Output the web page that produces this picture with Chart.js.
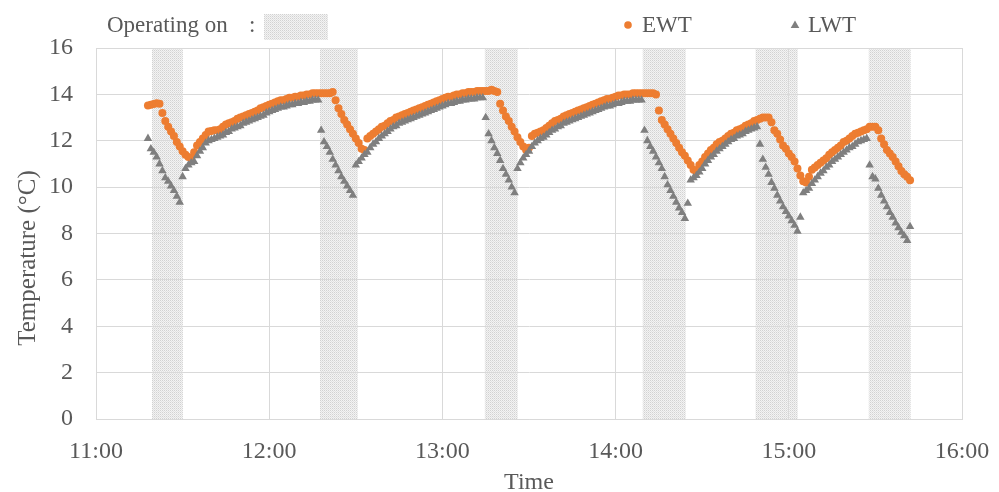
<!DOCTYPE html>
<html>
<head>
<meta charset="utf-8">
<script src="https://cdn.jsdelivr.net/npm/chart.js@4.4.1/dist/chart.umd.min.js"></script>
<style>
  html, body { margin: 0; padding: 0; background: #ffffff; }
  #wrap { width: 999px; height: 492px; }
</style>
</head>
<body>
<div id="wrap"><canvas id="tempChart" width="999" height="492"></canvas></div>
<script>
// axis range
const axisStart = '11:00';
const axisEnd = '16:00';

// readings every minute from this time
const startTime = '11:18';
const stepMinutes = 1;

// entering water temperature (°C), 11:18 .. 15:42
const ewt = [
  13.52, 13.55, 13.58, 13.62, 13.6, 13.2, 12.85, 12.6, 12.4, 12.2, 11.95, 11.75, 11.55, 11.4, 11.3, 11.25,
  11.5, 11.8, 11.95, 12.1, 12.25, 12.4, 12.42, 12.45, 12.45, 12.5, 12.6, 12.7, 12.75, 12.8, 12.85, 12.95,
  13.0, 13.05, 13.1, 13.15, 13.2, 13.25, 13.3, 13.4, 13.45, 13.5, 13.55, 13.6, 13.65, 13.7, 13.75, 13.75,
  13.8, 13.85, 13.85, 13.9, 13.9, 13.95, 13.95, 14.0, 14.0, 14.05, 14.05, 14.05, 14.05, 14.05, 14.05, 14.05,
  14.1, 13.75, 13.4, 13.15, 12.9, 12.7, 12.5, 12.3, 12.1, 11.9, 11.65, 11.6,
  12.1, 12.2, 12.3, 12.4, 12.5, 12.6, 12.65, 12.75, 12.85, 12.9, 13.0, 13.05, 13.1, 13.15, 13.2, 13.25,
  13.3, 13.35, 13.4, 13.45, 13.5, 13.55, 13.6, 13.65, 13.7, 13.75, 13.8, 13.85, 13.9, 13.9, 13.95, 14.0,
  14.0, 14.05, 14.05, 14.1, 14.1, 14.1, 14.15, 14.15, 14.15, 14.15, 14.15, 14.2, 14.15, 14.1,
  13.6, 13.3, 13.05, 12.85, 12.6, 12.4, 12.15, 11.95, 11.75, 11.6,
  11.7, 12.2, 12.3, 12.35, 12.4, 12.45, 12.55, 12.65, 12.75, 12.85, 12.9, 12.95, 13.05, 13.1, 13.15, 13.2,
  13.25, 13.3, 13.35, 13.4, 13.45, 13.5, 13.55, 13.6, 13.65, 13.7, 13.75, 13.8, 13.8, 13.85, 13.9, 13.95,
  13.95, 14.0, 14.0, 14.0, 14.05, 14.05, 14.05, 14.05, 14.05, 14.05, 14.05, 14.05, 14.0,
  13.3, 12.9, 12.7, 12.5, 12.3, 12.1, 11.9, 11.7, 11.5, 11.35, 11.15, 10.95, 10.75, 10.65,
  10.95, 11.1, 11.3, 11.45, 11.6, 11.7, 11.85, 11.95, 12.0, 12.1, 12.2, 12.3, 12.35, 12.45, 12.5, 12.55,
  12.65, 12.7, 12.75, 12.85, 12.9, 12.95, 13.0, 13.0, 13.0,
  12.8, 12.45, 12.3, 12.05, 11.8, 11.65, 11.45, 11.3, 11.1, 10.8, 10.5, 10.25, 10.2,
  10.45, 10.75, 10.85, 10.95, 11.05, 11.15, 11.25, 11.4, 11.5, 11.6, 11.7, 11.8, 11.95, 12.0, 12.1, 12.2,
  12.3, 12.35, 12.4, 12.45, 12.5, 12.6, 12.6, 12.6,
  12.45, 12.1, 11.85, 11.6, 11.45, 11.3, 11.1, 10.9, 10.7, 10.55, 10.45, 10.3
];

// leaving water temperature (°C), 11:18 .. 15:42
const lwt = [
  12.1, 11.65, 11.5, 11.3, 11.0, 10.7, 10.4, 10.25, 10.05, 9.85, 9.6, 9.35,
  10.45, 10.8, 10.95, 11.05, 11.1, 11.35, 11.55, 11.7, 11.9, 12.0, 12.05, 12.1, 12.15, 12.2, 12.25, 12.35,
  12.4, 12.5, 12.55, 12.6, 12.65, 12.75, 12.8, 12.85, 12.9, 12.95, 13.0, 13.05, 13.1, 13.2, 13.25, 13.3,
  13.35, 13.4, 13.45, 13.45, 13.5, 13.55, 13.55, 13.6, 13.6, 13.65, 13.65, 13.7, 13.7, 13.75, 13.75, 13.75,
  12.45, 11.95, 11.75, 11.5, 11.2, 10.95, 10.7, 10.45, 10.25, 10.05, 9.85, 9.65,
  10.95, 11.1, 11.25, 11.4, 11.5, 11.7, 11.85, 11.95, 12.1, 12.2, 12.3, 12.4, 12.5, 12.6, 12.65, 12.75,
  12.8, 12.85, 12.9, 12.95, 13.0, 13.05, 13.1, 13.15, 13.2, 13.25, 13.3, 13.35, 13.4, 13.45, 13.5, 13.55,
  13.6, 13.6, 13.65, 13.7, 13.7, 13.75, 13.75, 13.8, 13.8, 13.8, 13.85, 13.85, 13.85,
  13.0, 12.3, 12.0, 11.7, 11.45, 11.15, 10.8, 10.55, 10.3, 10.0, 9.75,
  10.8, 11.05, 11.25, 11.4, 11.55, 11.75, 11.9, 12.0, 12.1, 12.15, 12.25, 12.35, 12.45, 12.5, 12.6, 12.65,
  12.75, 12.8, 12.85, 12.9, 12.95, 13.0, 13.05, 13.1, 13.15, 13.2, 13.25, 13.3, 13.35, 13.4, 13.45, 13.5,
  13.5, 13.55, 13.6, 13.6, 13.65, 13.7, 13.7, 13.7, 13.75, 13.75, 13.75, 13.75,
  12.45, 12.0, 11.75, 11.55, 11.3, 11.05, 10.8, 10.45, 10.1, 9.85, 9.6, 9.35, 9.1, 8.9, 8.65,
  9.3, 10.3, 10.4, 10.5, 10.65, 10.8, 11.0, 11.15, 11.3, 11.4, 11.55, 11.65, 11.75, 11.85, 11.95, 12.05,
  12.1, 12.2, 12.25, 12.3, 12.4, 12.45, 12.5, 12.55, 12.6,
  11.85, 11.2, 10.85, 10.55, 10.2, 9.95, 9.65, 9.4, 9.15, 8.95, 8.75, 8.55, 8.35, 8.1,
  8.7, 9.75, 9.85, 9.95, 10.15, 10.3, 10.45, 10.6, 10.7, 10.85, 10.95, 11.1, 11.2, 11.3, 11.4, 11.5,
  11.6, 11.7, 11.75, 11.85, 11.95, 12.0, 12.05, 12.1,
  10.95, 10.45, 10.35, 9.95, 9.65, 9.4, 9.15, 8.9, 8.7, 8.45, 8.25, 8.05, 7.9, 7.7, 8.3
];

// periods when the unit was operating
const bandStarts = ['11:19:24', '12:17:36', '13:14:42', '14:09:24', '14:48:30', '15:27:42'];
const bandEnds = ['11:30:06', '12:30:42', '13:26:06', '14:24:18', '15:03:06', '15:42:12'];

const yTicks = [0, 2, 4, 6, 8, 10, 12, 14, 16];

const textColor = '#595959';
const gridColor = '#d9d9d9';
const fontFamily = '"Liberation Serif", "Times New Roman", serif';

function toMinutes(t) {
    const parts = t.split(':').map(Number);
    return parts[0] * 60 + parts[1] + (parts[2] || 0) / 60;
}

function minutesToLabel(v) {
    const h = Math.floor(v / 60);
    const m = Math.round(v - h * 60);
    return h + ':' + String(m).padStart(2, '0');
}

// fine dotted fill like the original
function makeStipple(ctx) {
    const c = document.createElement('canvas');
    c.width = 2;
    c.height = 2;
    const p = c.getContext('2d');
    p.fillStyle = '#f3f3f3';
    p.fillRect(0, 0, 2, 2);
    p.fillStyle = '#d2d2d2';
    p.fillRect(0, 0, 1, 1);
    p.fillStyle = '#e2e2e2';
    p.fillRect(1, 1, 1, 1);
    return ctx.createPattern(c, 'repeat');
}

const t0 = toMinutes(startTime);
const ewtPoints = ewt.map((v, i) => ({ x: t0 + i * stepMinutes, y: v }));
const lwtPoints = lwt.map((v, i) => ({ x: t0 + i * stepMinutes, y: v }));

// shaded operating periods, under the grid
const bandsPlugin = {
    id: 'operatingBands',
    beforeDraw(chart) {
        const { ctx, chartArea, scales } = chart;
        ctx.save();
        ctx.fillStyle = makeStipple(ctx);
        bandStarts.forEach((s, i) => {
            const x1 = scales.x.getPixelForValue(toMinutes(s));
            const x2 = scales.x.getPixelForValue(toMinutes(bandEnds[i]));
            ctx.fillRect(x1, chartArea.top, x2 - x1, chartArea.bottom - chartArea.top);
        });
        ctx.restore();
    }
};

// legend row across the top, plus the y title (sits a bit below centre in the original)
const legendPlugin = {
    id: 'topLegend',
    afterDraw(chart) {
        const ctx = chart.ctx;
        ctx.save();
        ctx.font = '23px ' + fontFamily;
        ctx.fillStyle = textColor;
        ctx.textBaseline = 'alphabetic';
        ctx.textAlign = 'left';
        ctx.fillText('Operating on', 107, 32);
        ctx.fillText(':', 249, 32);
        ctx.fillStyle = makeStipple(ctx);
        ctx.fillRect(264, 14, 64, 26);

        ctx.fillStyle = '#ED7D31';
        ctx.beginPath();
        ctx.arc(628, 25, 3.8, 0, Math.PI * 2);
        ctx.fill();
        ctx.fillStyle = textColor;
        ctx.fillText('EWT', 642, 32);

        ctx.fillStyle = '#7F7F7F';
        ctx.beginPath();
        ctx.moveTo(795, 20.5);
        ctx.lineTo(799.3, 28);
        ctx.lineTo(790.7, 28);
        ctx.closePath();
        ctx.fill();
        ctx.fillStyle = textColor;
        ctx.fillText('LWT', 808, 32);

        ctx.translate(28, 258);
        ctx.rotate(-Math.PI / 2);
        ctx.font = '25px ' + fontFamily;
        ctx.textAlign = 'center';
        ctx.textBaseline = 'middle';
        ctx.fillText('Temperature (°C)', 0, 0);
        ctx.restore();
    }
};

const ctx = document.getElementById('tempChart').getContext('2d');
new Chart(ctx, {
    type: 'scatter',
    data: {
        datasets: [
            {
                label: 'LWT',
                data: lwtPoints,
                pointStyle: 'triangle',
                pointRadius: 4.9,
                pointBackgroundColor: '#7F7F7F',
                pointBorderWidth: 0,
                order: 0
            },
            {
                label: 'EWT',
                data: ewtPoints,
                pointStyle: 'circle',
                pointRadius: 4,
                pointBackgroundColor: '#ED7D31',
                pointBorderWidth: 0,
                order: 1
            }
        ]
    },
    options: {
        responsive: false,
        animation: false,
        devicePixelRatio: 1,
        layout: { padding: { top: 48, right: 37, left: 0, bottom: 0 } },
        scales: {
            x: {
                type: 'linear',
                min: toMinutes(axisStart),
                max: toMinutes(axisEnd),
                afterFit: (scale) => {
                    scale.height = 73;
                    // the 16:00 label may hang into the right margin
                    scale.paddingLeft = 0;
                    scale.paddingRight = 0;
                },
                afterBuildTicks: (scale) => {
                    const ticks = [];
                    for (let v = scale.min; v <= scale.max; v += 60) ticks.push({ value: v });
                    scale.ticks = ticks;
                },
                ticks: {
                    padding: 18,
                    color: textColor,
                    font: { family: fontFamily, size: 24 },
                    callback: (v) => minutesToLabel(v),
                    maxRotation: 0
                },
                grid: { color: gridColor, drawTicks: false },
                border: { color: gridColor },
                title: {
                    display: true,
                    text: 'Time',
                    color: textColor,
                    font: { family: fontFamily, size: 24, lineHeight: 0.8 },
                    padding: { top: 0, bottom: 0 }
                }
            },
            y: {
                min: 0,
                max: 16,
                afterFit: (scale) => { scale.width = 96; },
                afterBuildTicks: (scale) => {
                    scale.ticks = yTicks.map(v => ({ value: v }));
                },
                ticks: {
                    padding: 23,
                    color: textColor,
                    font: { family: fontFamily, size: 24 }
                },
                grid: { color: gridColor, drawTicks: false },
                border: { color: gridColor },
                title: { display: false }
            }
        },
        plugins: {
            legend: { display: false },
            tooltip: { enabled: false }
        }
    },
    plugins: [bandsPlugin, legendPlugin]
});
</script>
</body>
</html>
